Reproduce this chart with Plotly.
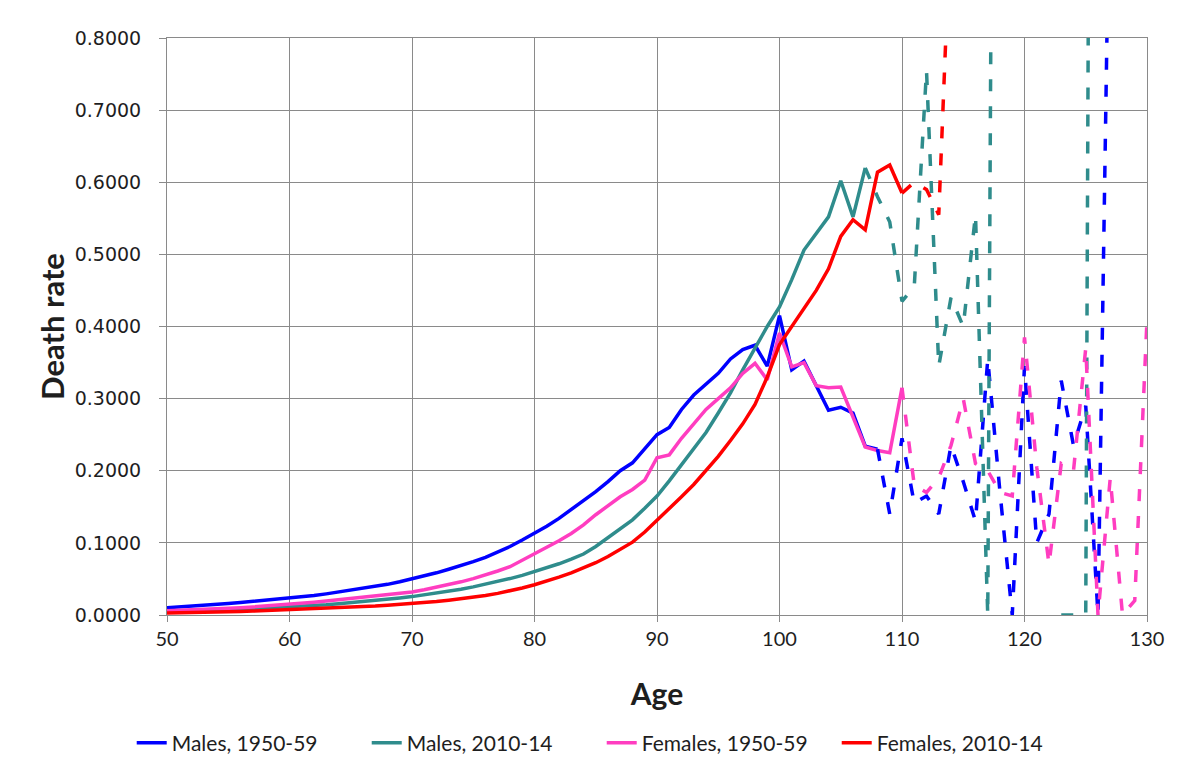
import plotly.graph_objects as go

# ---------------- data ----------------
ages_m1950 = list(range(50, 109))
m1950 = [.0100, .0110, .0121, .0133, .0146, .0160, .0174, .0189, .0203, .0215,
         .0228, .0248, .0270, .0293, .0318, .0345, .0375, .0405, .0425, .0460,
         .0500, .0540, .0585, .0635, .0685, .0740, .0800, .0870, .0950, .1040,
         .1130, .1230, .1340, .1460, .1580, .1710, .1850, .2000, .2110, .2300,
         .2500, .2600, .2850, .3050, .3200, .3350, .3550, .3680, .3740, .3450,
         .4150, .3400, .3520, .3180, .2840, .2880, .2800, .2340, .2300]

ages_m2010 = list(range(50, 108))
m2010 = [.0048, .0052, .0057, .0062, .0068, .0074, .0081, .0089, .0097, .0104,
         .0110, .0120, .0130, .0143, .0156, .0170, .0185, .0202, .0220, .0237,
         .0255, .0278, .0303, .0330, .0358, .0390, .0425, .0465, .0505, .0550,
         .0600, .0650, .0710, .0775, .0845, .0950, .1070, .1190, .1320, .1480,
         .1650, .1860, .2080, .2300, .2530, .2800, .3080, .3400, .3700, .4000,
         .4270, .4650, .5060, .5300, .5520, .6020, .5520, .6200]

ages_f1950 = list(range(50, 111))
f1950 = [.0060, .0065, .0071, .0078, .0085, .0093, .0102, .0112, .0123, .0135,
         .0150, .0163, .0177, .0193, .0210, .0228, .0248, .0268, .0285, .0300,
         .0320, .0350, .0385, .0420, .0460, .0505, .0555, .0610, .0670, .0760,
         .0850, .0930, .1030, .1130, .1250, .1390, .1520, .1640, .1740, .1870,
         .2180, .2220, .2450, .2650, .2850, .3000, .3150, .3350, .3490, .3260,
         .3910, .3440, .3500, .3180, .3150, .3160, .2750, .2330, .2280, .2250,
         .3150]

ages_f2010 = list(range(50, 111))
f2010 = [.0028, .0030, .0033, .0036, .0040, .0044, .0049, .0054, .0060, .0067,
         .0075, .0080, .0086, .0092, .0098, .0105, .0114, .0124, .0135, .0145,
         .0155, .0170, .0187, .0205, .0225, .0245, .0270, .0300, .0335, .0375,
         .0420, .0470, .0525, .0585, .0650, .0725, .0810, .0905, .1010, .1150,
         .1310, .1470, .1640, .1810, .2000, .2200, .2420, .2650, .2920, .3300,
         .3750, .4000, .4250, .4500, .4800, .5250, .5480, .5340, .6140, .6240,
         .5850]

# dashed (sparse-data) continuations
ages_m1950_d = list(range(108, 128))
m1950_d = [.230, .140, .245, .155, .165, .140, .235, .185, .130, .355,
           .170, .000, .345, .100, .140, .325, .235, .290, .000, 1.10]

ages_m2010_d = list(range(107, 127))
m2010_d = [.620, .580, .545, .435, .455, .755, .345, .440, .400, .555,
           .000, 3.20, None, None, None, None, .000, .000, .000, 4.00]

ages_f1950_d = list(range(110, 131))
f1950_d = [.315, .180, .170, .190, .235, .300, .210, .200, .170, .165,
           .385, .205, .070, .210, .200, .370, .000, .190, .000, .020, .410]

ages_f2010_d = list(range(110, 115))
f2010_d = [.585, .600, .590, .555, .980]

x_ticks = [50, 60, 70, 80, 90, 100, 110, 120, 130]
y_ticks = [0.0, 0.1, 0.2, 0.3, 0.4, 0.5, 0.6, 0.7, 0.8]

series = [
    ("Males, 1950-59", "#0000FF", ages_m1950, m1950, ages_m1950_d, m1950_d),
    ("Males, 2010-14", "#2F8C8C", ages_m2010, m2010, ages_m2010_d, m2010_d),
    ("Females, 1950-59", "#FF3DC0", ages_f1950, f1950, ages_f1950_d, f1950_d),
    ("Females, 2010-14", "#FF0000", ages_f2010, f2010, ages_f2010_d, f2010_d),
]

fig = go.Figure()
for name, color, xs, ys, xd, yd in series:
    fig.add_trace(go.Scatter(
        x=xs, y=ys, mode="lines", name=name, legendgroup=name,
        line=dict(color=color, width=3.5)))
for name, color, xs, ys, xd, yd in series:
    fig.add_trace(go.Scatter(
        x=xd, y=yd, mode="lines", name=name, legendgroup=name,
        showlegend=False, connectgaps=False,
        line=dict(color=color, width=3.5, dash="12px,15px")))

grid = "#8a8a8a"
# page has an 8px body margin: plot area at page x 167..1147, y 38..615
fig.update_layout(
    width=1182, height=754,
    margin=dict(l=159, r=43, t=30, b=147, autoexpand=False),
    paper_bgcolor="white", plot_bgcolor="white",
    font=dict(family="Lato, Liberation Sans, sans-serif", color="#1e1e1e"),
    showlegend=True,
    legend=dict(orientation="h", x=-0.036, xanchor="left", y=-0.222,
                yanchor="middle", font=dict(size=21, family="Lato, sans-serif"),
                entrywidth=190, entrywidthmode="pixels", itemwidth=30,
                bgcolor="rgba(0,0,0,0)"),
)
fig.update_xaxes(
    range=[50, 130], tickvals=x_ticks, ticktext=[str(v) for v in x_ticks],
    showgrid=True, gridcolor=grid, gridwidth=1,
    showline=True, linecolor=grid, linewidth=1, mirror=True,
    ticks="outside", ticklen=6, tickcolor=grid, zeroline=False,
    tickfont=dict(size=20, family="Lato, sans-serif"),
    title=dict(text="<b>Age</b>", font=dict(size=30, family="Lato, sans-serif"),
               standoff=34),
)
fig.update_yaxes(
    range=[0, 0.8], tickvals=y_ticks, tickformat=".4f",
    showgrid=True, gridcolor=grid, gridwidth=1,
    showline=True, linecolor=grid, linewidth=1, mirror=True,
    ticks="outside", ticklen=7, tickcolor=grid, zeroline=False,
    ticklabelstandoff=14,
    tickfont=dict(size=19, family="DejaVu Sans, Verdana, sans-serif"),
    title=dict(text="<b>Death rate</b>", font=dict(size=31, family="Lato, sans-serif"),
               standoff=0),
)

fig.write_html("out.html")
